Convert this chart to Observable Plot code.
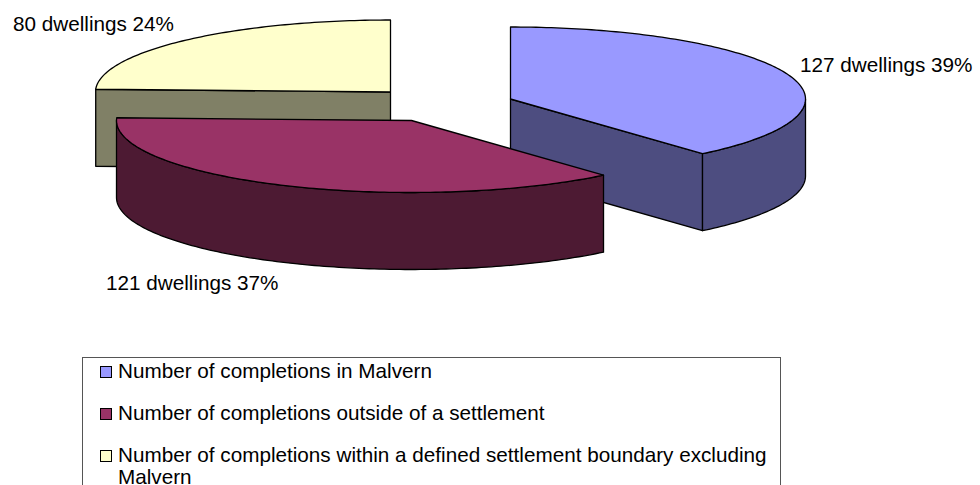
<!DOCTYPE html>
<html>
<head>
<meta charset="utf-8">
<script src="https://cdn.jsdelivr.net/npm/d3@7"></script>
<script src="https://cdn.jsdelivr.net/npm/@observablehq/plot@0.6"></script>
<style>
html,body{margin:0;padding:0;background:#fff;width:980px;height:485px;overflow:hidden}
body{font-family:"Liberation Sans",Arial,sans-serif;color:#000}
#legend{position:absolute;left:82px;top:356.5px;width:697px;height:127px;border:1px solid #555;border-bottom:none;box-sizing:content-box;font-size:20.7px;line-height:22px;overflow:visible}
#legend .row{position:absolute;left:35px;width:660px;height:22px}
#legend .row.two{height:40px}
#legend .sw{position:absolute;left:17px;width:10px;height:10px;border:1.2px solid #000}
</style>
</head>
<body>
<div id="chart"></div>
<div id="legend"></div>
<script>
// Data
const categories = [
  "Number of completions in Malvern",
  "Number of completions outside of a settlement",
  "Number of completions within a defined settlement boundary excluding Malvern"
];
const dwellings = [127, 121, 80];
const percents = ["39%", "37%", "24%"];

// Styles
const topColors = ["#9999FF", "#993366", "#FFFFCC"];
const sideColors = ["#4D4D80", "#4D1A33", "#808066"];

// Layout of the exploded 3-D pie
const W = 980, H = 350;
const rx = 295, ry = 72, depth = 77;
const centres = [[510, 98.5], [411, 120], [390, 91.5]];
const labelPos = [[799.5, 65], [105.5, 283], [12.5, 24]];
const legendRows = [14, 56, 98];

const total = d3.sum(dwellings);
let acc = 0;
const slices = dwellings.map((v, i) => {
  const a0 = acc / total * 360; acc += v;
  return {i, a0, a1: acc / total * 360, c: centres[i]};
});
const pt = (s, a, dy = 0) => {
  const r = a * Math.PI / 180;
  return {x: s.c[0] + rx * Math.sin(r), y: s.c[1] - ry * Math.cos(r) + dy};
};
const arc = (s, a0, a1, dy = 0) => {
  const n = Math.max(2, Math.ceil(Math.abs(a1 - a0)));
  return d3.range(n + 1).map(k => pt(s, a0 + (a1 - a0) * k / n, dy));
};
const apex = (s, dy = 0) => ({x: s.c[0], y: s.c[1] + dy});
const poly = (pts, fill) => Plot.line(pts, {x: "x", y: "y", fill, stroke: "#000", strokeWidth: 1.3, curve: "linear-closed", strokeLinejoin: "round"});

function sliceMarks(s) {
  const marks = [];
  const top = topColors[s.i], side = sideColors[s.i];
  // Radial cut faces that face the viewer
  if (s.a1 > 0 && s.a1 < 180) marks.push(poly([apex(s), pt(s, s.a1), pt(s, s.a1, depth), apex(s, depth)], side));
  if (s.a0 > 180 && s.a0 < 360) marks.push(poly([apex(s), pt(s, s.a0), pt(s, s.a0, depth), apex(s, depth)], side));
  // Outer rim
  const r0 = Math.max(s.a0, 90), r1 = Math.min(s.a1, 270);
  if (r1 > r0) marks.push(poly([...arc(s, r0, r1), ...arc(s, r1, r0, depth)], side));
  // Top surface
  marks.push(poly([apex(s), ...arc(s, s.a0, s.a1)], top));
  return marks;
}

const labels = dwellings.map((v, i) => ({
  text: `${v} dwellings ${percents[i]}`, x: labelPos[i][0], y: labelPos[i][1]
}));

const chart = Plot.plot({
  width: W, height: H,
  margin: 0,
  x: {domain: [0, W], range: [0, W], axis: null},
  y: {domain: [0, H], range: [0, H], axis: null},
  style: {background: "#fff", fontFamily: '"Liberation Sans", Arial, sans-serif'},
  marks: [
    ...[2, 0, 1].flatMap(i => sliceMarks(slices[i])),
    Plot.text(labels, {x: "x", y: "y", text: "text", textAnchor: "start", fontSize: 20.7, fill: "#000"})
  ]
});
chart.style.display = "block";
document.getElementById("chart").append(chart);

const legend = document.getElementById("legend");
categories.forEach((c, i) => {
  const sw = document.createElement("div");
  sw.className = "sw";
  sw.style.top = (legendRows[i] - 6) + "px";
  sw.style.background = topColors[i];
  legend.append(sw);
  const row = document.createElement("div");
  row.className = i === 2 ? "row two" : "row";
  row.style.top = (legendRows[i] - 12) + "px";
  row.textContent = c;
  legend.append(row);
});
</script>
</body>
</html>
